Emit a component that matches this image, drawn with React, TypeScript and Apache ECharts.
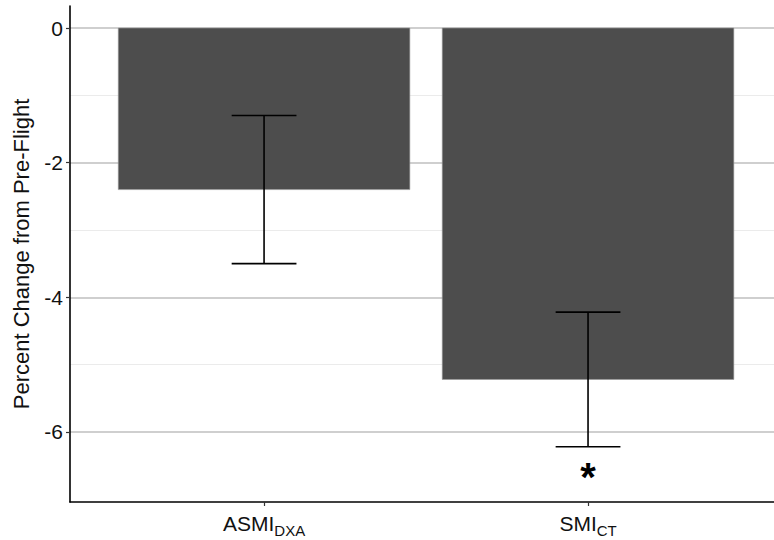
import React, { useEffect, useRef } from "react";
import * as echarts from "echarts";

const categories = ["ASMI", "SMI"];
const categorySubscripts = ["DXA", "CT"];
const meanChange = [-2.4, -5.22];
const errorUpper = [-1.3, -4.22];
const errorLower = [-3.5, -6.22];
const significant = [false, true];
const yMajorTicks = [0, -2, -4, -6];
const yMinorTicks = [-1, -3, -5];

const FONT = "'Liberation Sans', Arial, Helvetica, sans-serif";

export default function App() {
  const ref = useRef<HTMLDivElement>(null);

  useEffect(() => {
    if (!ref.current) return;
    const chart = echarts.init(ref.current, undefined, { renderer: "svg" });

    const data = categories.map((_, i) => [
      i + 1,
      meanChange[i],
      errorLower[i],
      errorUpper[i],
      significant[i] ? 1 : 0,
    ]);

    const option = {
      animation: false,
      backgroundColor: "#ffffff",
      textStyle: { fontFamily: FONT },
      grid: { left: 70, right: 0, top: 6, bottom: 38, containLabel: false, outerBoundsMode: "none" },
      xAxis: {
        type: "value",
        min: 0.401,
        max: 2.574,
        axisLine: { show: true, onZero: false, lineStyle: { color: "#000", width: 1.6 } },
        axisTick: {
          show: true,
          customValues: [1, 2],
          length: 4,
          lineStyle: { color: "#333", width: 1.2 },
        },
        splitLine: { show: false },
        axisLabel: {
          customValues: [1, 2],
          margin: 8,
          color: "#111",
          formatter: (v: number) => {
            const i = Math.round(v) - 1;
            return `{a|${categories[i]}}{s|${categorySubscripts[i]}}`;
          },
          rich: {
            a: { fontSize: 21, fontFamily: FONT, color: "#111", lineHeight: 24, verticalAlign: "bottom" },
            s: { fontSize: 15, fontFamily: FONT, color: "#111", lineHeight: 24, verticalAlign: "bottom", padding: [0, 0, -4, 0] },
          },
        },
      },
      yAxis: [
        {
          type: "value",
          min: -7.04,
          max: 0.327,
          name: "Percent Change from Pre-Flight",
          nameLocation: "middle",
          nameRotate: 90,
          nameGap: 38,
          nameTextStyle: { fontSize: 22, color: "#111", fontFamily: FONT },
          axisLine: { show: true, onZero: false, lineStyle: { color: "#000", width: 1.6 } },
          axisTick: {
            show: true,
            customValues: yMajorTicks,
            length: 4,
            lineStyle: { color: "#333", width: 1.2 },
          },
          axisLabel: {
            customValues: yMajorTicks,
            fontSize: 21,
            color: "#111",
            margin: 7,
            fontFamily: FONT,
          },
          splitLine: { show: true, lineStyle: { color: "#bfbfbf", width: 1.5 } },
        },
        {
          type: "value",
          min: -7.04,
          max: 0.327,
          position: "left",
          axisLine: { show: false },
          axisTick: { show: false, customValues: yMinorTicks },
          axisLabel: { show: false, customValues: yMinorTicks },
          splitLine: { show: true, lineStyle: { color: "#ebebeb", width: 1.2 } },
        },
      ],
      series: [
        {
          type: "custom",
          xAxisIndex: 0,
          yAxisIndex: 0,
          data,
          clip: false,
          renderItem: (params: any, api: any) => {
            const x = api.value(0);
            const mean = api.value(1);
            const lo = api.value(2);
            const hi = api.value(3);
            const sig = api.value(4);
            const halfBar = 0.45;
            const halfCap = 0.1;
            const p0 = api.coord([x - halfBar, 0]);
            const p1 = api.coord([x + halfBar, mean]);
            const cTop = api.coord([x, hi]);
            const cBot = api.coord([x, lo]);
            const capL = api.coord([x - halfCap, hi]);
            const capR = api.coord([x + halfCap, hi]);
            const lineStyle = { stroke: "#000", lineWidth: 1.6, fill: null };
            const children: any[] = [
              {
                type: "rect",
                shape: { x: p0[0], y: p0[1], width: p1[0] - p0[0], height: p1[1] - p0[1] },
                style: { fill: "#4d4d4d", stroke: "#9a9a9a", lineWidth: 0.6 },
              },
              { type: "line", shape: { x1: cTop[0], y1: cTop[1], x2: cBot[0], y2: cBot[1] }, style: lineStyle },
              { type: "line", shape: { x1: capL[0], y1: cTop[1], x2: capR[0], y2: cTop[1] }, style: lineStyle },
              { type: "line", shape: { x1: capL[0], y1: cBot[1], x2: capR[0], y2: cBot[1] }, style: lineStyle },
            ];
            if (sig) {
              children.push({
                type: "text",
                x: cBot[0],
                y: cBot[1] + 30,
                style: {
                  text: "*",
                  fontSize: 40,
                  fontWeight: "bold",
                  fontFamily: FONT,
                  fill: "#000",
                  align: "center",
                  verticalAlign: "middle",
                },
              });
            }
            return { type: "group", children };
          },
        },
      ],
    };

    chart.setOption(option as any);
    return () => chart.dispose();
  }, []);

  return <div ref={ref} style={{ width: 774, height: 540, position: "absolute", left: 0, top: 0 }} />;
}
